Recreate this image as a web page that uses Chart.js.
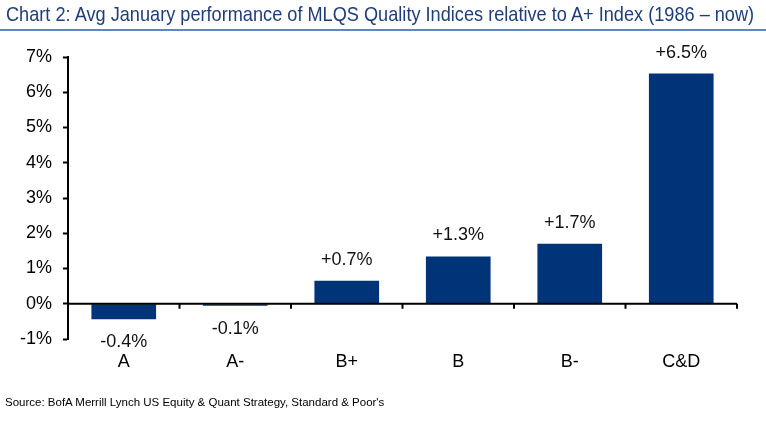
<!DOCTYPE html>
<html>
<head>
<meta charset="utf-8">
<script src="https://cdn.jsdelivr.net/npm/chart.js@4"></script>
<style>
  html, body { margin: 0; padding: 0; background: #fff; }
  #wrap { position: relative; width: 766px; height: 421px; overflow: hidden; }
  #titleBox { position: absolute; left: 0; top: 0; width: 756px; height: 29px; overflow: hidden; }
  #title {
    position: absolute; left: 6px; top: 2px; white-space: nowrap;
    font-family: "Liberation Sans", Arial, sans-serif;
    font-size: 21px; color: #1f3d7a; transform-origin: 0 0;
  }
  #rule { position: absolute; left: 0; top: 29px; width: 766px; height: 2px; background: #5f86c2; }
  #source {
    position: absolute; left: 5px; top: 396px; white-space: nowrap;
    font-family: "Liberation Sans", Arial, sans-serif; font-size: 11.5px; color: #000;
  }
  #chart { position: absolute; left: 0; top: 0; }
</style>
</head>
<body>
<div id="wrap">
  <canvas id="chart" width="766" height="421"></canvas>
  <div id="titleBox"><div id="title">Chart 2: Avg January performance of MLQS Quality Indices relative to A+ Index (1986 – now)</div></div>
  <div id="rule"></div>
  <div id="source">Source: BofA Merrill Lynch US Equity &amp; Quant Strategy, Standard &amp; Poor's</div>
</div>
<script>
// quality buckets and avg January excess return (%) vs A+ index
const categories = ["A", "A-", "B+", "B", "B-", "C&D"];
const values = [-0.44, -0.06, 0.65, 1.34, 1.70, 6.53];
const valueLabels = ["-0.4%", "-0.1%", "+0.7%", "+1.3%", "+1.7%", "+6.5%"];
const yMin = -1;
const yMax = 7;

const FONT = '"Liberation Sans", Arial, sans-serif';

// squeeze the title into a narrow look (no narrow font installed)
const title = document.getElementById("title");
title.style.transform = "scaleX(" + (748 / title.scrollWidth) + ")";

// value labels above / below each bar
const barLabels = {
    id: "barLabels",
    afterDatasetsDraw(chart) {
        const ctx = chart.ctx;
        const meta = chart.getDatasetMeta(0);
        ctx.save();
        ctx.font = "18px " + FONT;
        ctx.fillStyle = "#111";
        ctx.textAlign = "center";
        ctx.textBaseline = "middle";
        meta.data.forEach((bar, i) => {
            const y = values[i] >= 0 ? bar.y - 21 : bar.y + 23;
            ctx.fillText(valueLabels[i], bar.x, y);
        });
        ctx.restore();
    }
};

// zero line plus the small tick marks hanging off it between categories
const zeroTicks = {
    id: "zeroTicks",
    afterDatasetsDraw(chart) {
        const ctx = chart.ctx;
        const xs = chart.scales.x;
        const y0 = chart.scales.y.getPixelForValue(0);
        const half = (xs.getPixelForValue(1) - xs.getPixelForValue(0)) / 2;
        ctx.save();
        ctx.strokeStyle = "#000";
        ctx.lineWidth = 2;
        ctx.beginPath();
        ctx.moveTo(chart.chartArea.left, y0);
        ctx.lineTo(chart.chartArea.right, y0);
        for (let i = 0; i < categories.length; i++) {
            const x = xs.getPixelForValue(i) + half;
            ctx.moveTo(x, y0);
            ctx.lineTo(x, y0 + 5);
        }
        ctx.stroke();
        ctx.restore();
    }
};

new Chart(document.getElementById("chart"), {
    type: "bar",
    data: {
        labels: categories,
        datasets: [{
            data: values,
            backgroundColor: "#003478",
            borderWidth: 0,
            categoryPercentage: 1,
            barPercentage: 0.58
        }]
    },
    options: {
        responsive: false,
        animation: false,
        layout: { padding: { left: 0, right: 29, top: 57, bottom: 37 } },
        plugins: { legend: { display: false }, tooltip: { enabled: false }, title: { display: false } },
        scales: {
            x: {
                afterFit: (s) => { s.height = 45; },
                grid: { display: false, drawTicks: false },
                border: { display: false },
                ticks: { color: "#000", font: { family: FONT, size: 18 }, padding: 12 }
            },
            y: {
                min: yMin,
                max: yMax,
                afterFit: (s) => { s.width = 68; },
                border: { display: true, color: "#000", width: 2 },
                grid: {
                    color: "rgba(0,0,0,0)",
                    tickColor: "#000",
                    tickLength: 5,
                    tickWidth: 2
                },
                ticks: {
                    stepSize: 1,
                    color: "#000",
                    padding: 11,
                    font: { family: FONT, size: 18 },
                    callback: (v) => v + "%"
                }
            }
        }
    },
    plugins: [barLabels, zeroTicks]
});
</script>
</body>
</html>
